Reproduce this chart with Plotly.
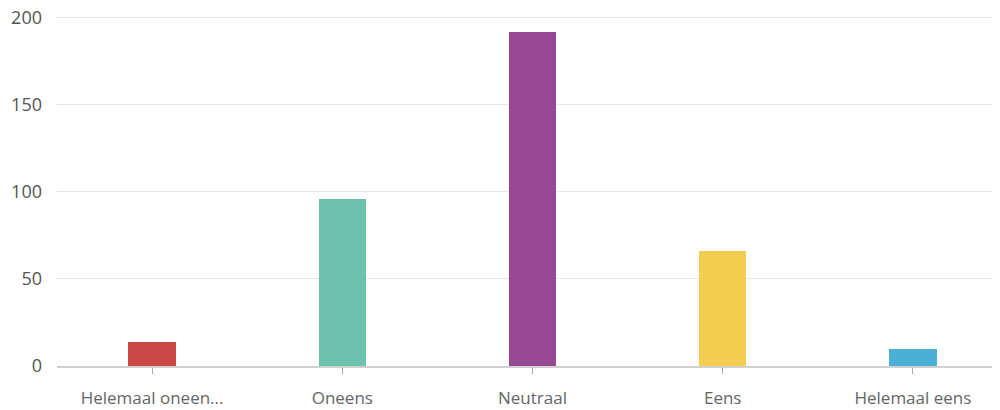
import plotly.graph_objects as go

categories = ["Helemaal oneen...", "Oneens", "Neutraal", "Eens", "Helemaal eens"]
values = [14, 96, 192, 66, 10]
colors = ["#CC4846", "#6CC2AD", "#964894", "#F5CD4F", "#4BAFD6"]
y_ticks = [0, 50, 100, 150, 200]

fig = go.Figure(go.Bar(
    x=categories, y=values, marker_color=colors, width=0.25,
    marker_line_width=0,
))

font_fam = "'Open Sans', sans-serif"
fig.update_layout(
    width=1000, height=410,
    margin=dict(l=49, r=0, t=8, b=52, autoexpand=False),
    paper_bgcolor="white", plot_bgcolor="white",
    showlegend=False,
    font=dict(family=font_fam, size=16, color="#555555"),
    bargap=0,
)
fig.update_xaxes(
    range=[-0.5, 4.5],
    showgrid=False,
    showline=True, linecolor="#d0d0d0", linewidth=1.5,
    ticks="outside", ticklen=6, tickcolor="#aaaaaa", tickwidth=1,
    ticklabelstandoff=10,
    tickfont=dict(size=17, color="#666666"),
    fixedrange=True,
)
fig.update_yaxes(
    range=[0, 201],
    tickvals=y_ticks,
    showgrid=True, gridcolor="#e6e6e6", gridwidth=1,
    zeroline=False, showline=False,
    ticks="", ticklabelstandoff=14,
    ticklabeloverflow="allow",
    tickfont=dict(size=18, color="#555555"),
    fixedrange=True,
)

fig.write_html("out.html")
